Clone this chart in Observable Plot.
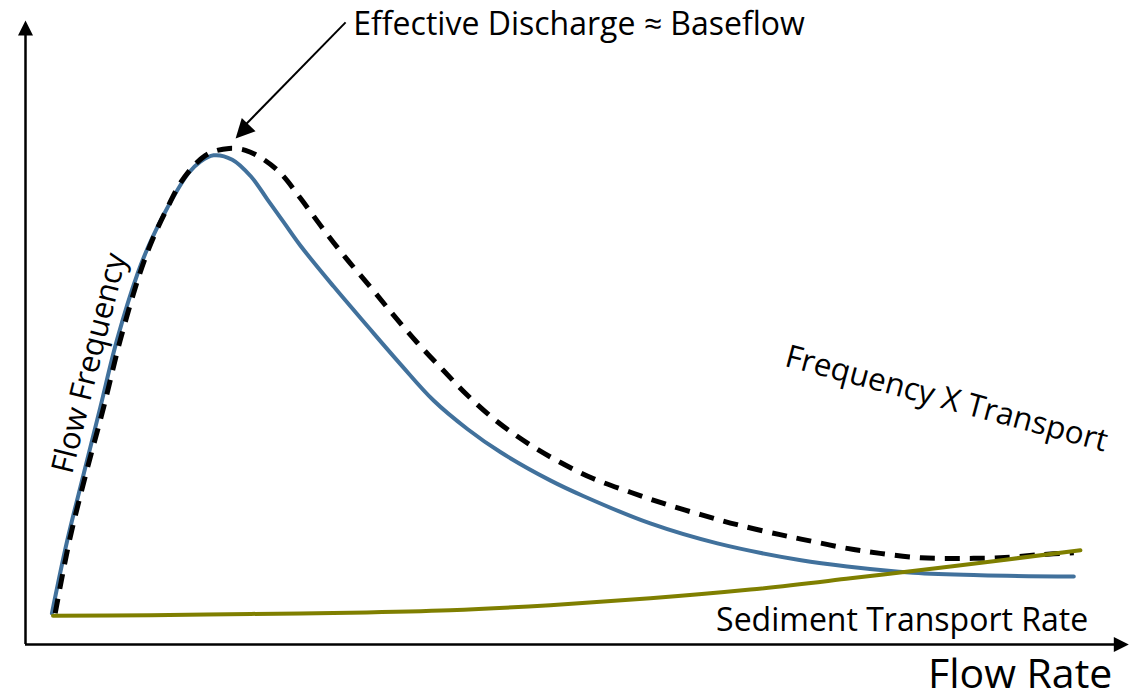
<!DOCTYPE html>
<html><head><meta charset="utf-8">
<script src="https://cdn.jsdelivr.net/npm/d3@7"></script>
<script src="https://cdn.jsdelivr.net/npm/@observablehq/plot@0.6"></script>
<style>html,body{margin:0;padding:0;background:#fff;}</style>
</head><body><div id="chart"></div>
<script>
// Flow frequency curve (blue)
const freqX = [2.4,3.8,5.3,6.8,8.3,10.2,11.4,12.9,14.8,15.9,17.1,18.8,20.5,22.0,23.5,25.0,28.0,31.1,34.1,37.1,40.2,43.2,47.7,50.7,56.8,62.9,70.5,74.7,80.7,86.8,95.3];
const freqY = [5.0,16.7,27.4,38.0,48.7,59.5,64.7,70.0,75.5,77.4,78.4,77.7,75.0,71.3,67.6,63.9,57.4,51.0,44.9,39.1,34.5,30.8,26.3,23.8,19.4,16.2,13.5,12.5,11.5,11.1,10.9];
// Frequency x transport curve (dashed)
const prodX = [2.7,4.0,5.5,7.1,8.6,10.4,11.5,12.9,14.1,15.5,16.8,18.5,20.0,21.5,23.2,25.0,27.1,29.1,31.4,33.5,35.6,38.0,40.2,42.9,45.7,48.6,51.6,55.0,58.0,61.4,64.7,68.6,71.6,74.7,77.7,81.4,85.0,88.6,92.3,95.3];
const prodY = [5.0,16.7,27.4,38.0,48.7,59.5,64.7,70.0,74.0,77.1,78.8,79.5,79.2,77.9,75.5,71.5,66.5,62.0,57.2,52.7,48.4,43.9,39.9,35.7,32.2,29.2,26.6,24.4,22.6,20.8,19.2,17.6,16.5,15.4,14.6,13.9,13.8,13.9,14.4,14.7];
// Sediment transport rate curve (olive)
const sedX = [2.5,11.4,20.5,29.5,38.6,47.7,56.8,65.9,75.0,84.1,95.9];
const sedY = [4.6,4.7,4.9,5.1,5.5,6.3,7.4,8.8,10.6,12.5,15.1];
// Axis extents and annotation arrow
const axisXMax = 100.3;
const axisYMax = 100;
const annotFrom = [29.1, 99.7];
const annotTo = [19.1, 81.1];
// Labels
const labelPeak = "Effective Discharge ≈ Baseflow";
const labelFreq = "Flow Frequency";
const labelProd = "Frequency X Transport";
const labelSed = "Sediment Transport Rate";
const labelX = "Flow Rate";

const toRows = (xs, ys) => xs.map((x, i) => ({x, y: ys[i]}));
const freq = toRows(freqX, freqY);
const prod = toRows(prodX, prodY);
const sed = toRows(sedX, sedY);

const head = {draw(ctx, size) {
  const r = Math.sqrt(size / Math.PI);
  ctx.moveTo(0, 0); ctx.lineTo(r, 2 * r); ctx.lineTo(-r, 2 * r); ctx.closePath();
}};
const font = "'Open Sans', Lato, sans-serif";

const chart = Plot.plot({
  width: 1137, height: 699,
  margin: 0,
  style: {background: "#fff", fontFamily: font},
  x: {domain: [0, 100], range: [25, 1125], axis: null},
  y: {domain: [0, 100], range: [644, 20], axis: null},
  marks: [
    Plot.ruleX([0], {y1: 0, y2: axisYMax - 1.5, stroke: "#000", strokeWidth: 2.5}),
    Plot.ruleY([0], {x1: 0, x2: axisXMax - 0.8, stroke: "#000", strokeWidth: 2.5}),
    Plot.dot([0], {x: 0, y: axisYMax, symbol: head, r: 7.5, fill: "#000", stroke: null, rotate: 0}),
    Plot.dot([0], {x: axisXMax, y: 0, symbol: head, r: 7.5, fill: "#000", stroke: null, rotate: 90}),
    Plot.line(freq, {x: "x", y: "y", stroke: "#41719C", strokeWidth: 4, curve: "catmull-rom"}),
    Plot.line(prod, {x: "x", y: "y", stroke: "#000", strokeWidth: 5, strokeDasharray: "15,10", curve: "catmull-rom", strokeLinecap: "butt"}),
    Plot.line(sed, {x: "x", y: "y", stroke: "#7F7F00", strokeWidth: 4, curve: "catmull-rom"}),
    Plot.link([0], {x1: annotFrom[0], y1: annotFrom[1], x2: annotTo[0] + 0.9, y2: annotTo[1] + 2.2, stroke: "#000", strokeWidth: 2}),
    Plot.dot([0], {x: annotTo[0], y: annotTo[1], symbol: head, r: 9.5, fill: "#000", stroke: null, rotate: 223.5}),
    Plot.text([labelPeak], {x: 29.8, y: 97.6, text: d => d, textAnchor: "start", lineAnchor: "bottom", fontSize: 32, fill: "#000"}),
    Plot.text([labelX], {x: 98.8, y: -6.97, text: d => d, textAnchor: "end", lineAnchor: "bottom", fontSize: 41, fill: "#000"}),
    Plot.text([labelSed], {x: 96.6, y: 2.2, text: d => d, textAnchor: "end", lineAnchor: "bottom", fontSize: 32, fill: "#000"}),
    Plot.text([labelProd], {x: 83.5, y: 37.8, text: d => d, textAnchor: "middle", lineAnchor: "bottom", fontSize: 31.5, rotate: 15, fill: "#000"}),
    Plot.text([labelFreq], {x: 6.7, y: 44.7, text: d => d, textAnchor: "middle", lineAnchor: "bottom", fontSize: 31, rotate: -76, fill: "#000"})
  ]
});
document.getElementById("chart").appendChild(chart);
</script>
</body></html>
